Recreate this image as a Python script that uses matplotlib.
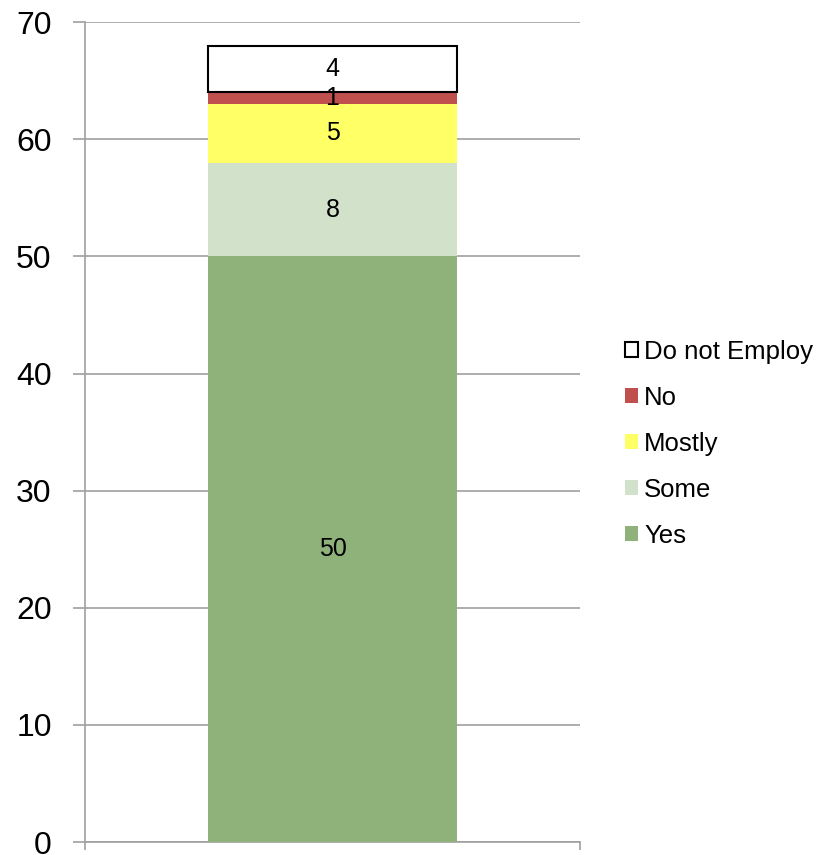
import matplotlib.pyplot as plt

# data
categories = ["Yes", "Some", "Mostly", "No", "Do not Employ"]
values = [50, 8, 5, 1, 4]
colors = ["#8EB27A", "#D2E1CA", "#FFFF66", "#C0504D", "#FFFFFF"]
edges = ["none", "none", "none", "none", "black"]
yticks = [0, 10, 20, 30, 40, 50, 60, 70]

fig = plt.figure(figsize=(8.21, 8.55), dpi=100)
ax = fig.add_axes([0.1035, 0.0152, 0.603, 0.9588])

bottom = 0
for cat, val, col, ec in zip(categories, values, colors, edges):
    ax.bar(0, val, width=0.995, bottom=bottom, color=col, edgecolor=ec,
           linewidth=1.5 if ec != "none" else 0, label=cat, zorder=3)
    ax.text(0, bottom + val / 2, str(val), ha="center", va="center",
            fontsize=18, family="Liberation Sans", zorder=4)
    bottom += val

ax.set_xlim(-0.99, 0.99)
ax.set_ylim(0, 70)
ax.set_yticks(yticks)
# category-axis boundary ticks
ax.set_xticks([-0.99, 0.99])
ax.set_xticklabels(["", ""])
ax.tick_params(axis="x", length=6, width=1.2, color="#A0A0A0")
ax.yaxis.grid(True, color="#A0A0A0", linewidth=1.2, zorder=0)
ax.tick_params(axis="y", length=9, width=1.2, color="#A0A0A0",
               labelsize=23, pad=15)
for lab in ax.get_yticklabels():
    lab.set_family("Liberation Sans")
for s in ["top", "right"]:
    ax.spines[s].set_visible(False)
for s in ["left", "bottom"]:
    ax.spines[s].set_color("#A0A0A0")
    ax.spines[s].set_linewidth(1.2)

handles, labels = ax.get_legend_handles_labels()
fig.legend(handles[::-1], labels[::-1], loc="center left",
           bbox_to_anchor=(0.733, 0.481), frameon=False,
           prop={"family": "Liberation Sans", "size": 18.5},
           handlelength=0.5, handleheight=0.5, handletextpad=0.25,
           labelspacing=0.86)

fig.savefig("out.png", dpi=100)
